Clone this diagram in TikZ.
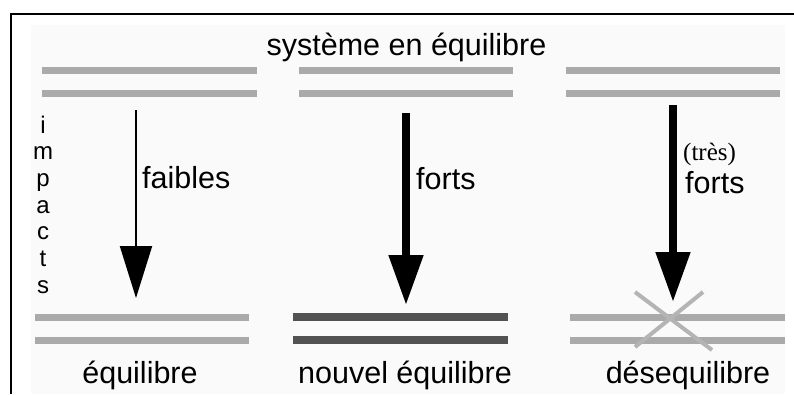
\documentclass[tikz,border=0pt]{standalone}
\usepackage{fontspec}
\setmainfont{Liberation Sans}
\newfontfamily\myserif{Liberation Serif}
\usetikzlibrary{arrows.meta}
\definecolor{barlight}{RGB}{170,170,170}
\definecolor{bardark}{RGB}{82,82,82}
\definecolor{crossgray}{RGB}{180,180,180}
\definecolor{bgpanel}{RGB}{250,250,250}
\begin{document}
\begin{tikzpicture}[x=1pt,y=-1pt,
  lightbar/.style={draw=barlight,line width=7pt},
  darkbar/.style={draw=bardark,line width=7.5pt},
  crossline/.style={draw=crossgray,line width=4pt},
  lbl/.style={inner sep=0pt,anchor=base,font=\fontsize{30.5}{36}\selectfont},
  sidelbl/.style={inner sep=0pt,anchor=base west,font=\fontsize{30.5}{36}\selectfont},
  vletter/.style={inner sep=0pt,anchor=base,font=\fontsize{24}{28}\selectfont},
  thinarrow/.style={line width=2pt,-{Triangle[length=52pt,width=32pt]}},
  thickarrow/.style={line width=8pt,-{Triangle[length=50pt,width=33pt]}},
  frameline/.style={line width=1.8pt,draw=black}]
\useasboundingbox (0,0) rectangle (794,394);
% background panel and frame
\fill[bgpanel] (31,25) rectangle (785,394);
\draw[frameline] (794,14) -- (11,14) -- (11,394);
% title
\node[lbl] (title) at (406.5,55) {système en équilibre};
% top bars
\draw[lightbar] (42,70) -- (257,70);
\draw[lightbar] (42,93) -- (257,93);
\draw[lightbar] (299,70) -- (513,70);
\draw[lightbar] (299,93) -- (513,93);
\draw[lightbar] (566,70) -- (780,70);
\draw[lightbar] (566,93) -- (780,93);
% bottom bars
\draw[lightbar] (35,317) -- (249,317);
\draw[lightbar] (35,340) -- (249,340);
\draw[darkbar] (293,317) -- (508,317);
\draw[darkbar] (293,340) -- (508,340);
\draw[lightbar] (570,317) -- (785,317);
\draw[lightbar] (570,340) -- (785,340);
% cross
\coordinate (x1a) at (635,292); \coordinate (x1b) at (712,350);
\coordinate (x2a) at (703,292); \coordinate (x2b) at (635,347);
\draw[crossline] (x1a) -- (x1b);
\draw[crossline] (x2a) -- (x2b);
% arrows
\coordinate (a1s) at (136,110); \coordinate (a1e) at (136,298);
\coordinate (a2s) at (406,113); \coordinate (a2e) at (406,305);
\coordinate (a3s) at (673,105); \coordinate (a3e) at (673,302);
\draw[thinarrow] (a1s) -- (a1e);
\draw[thickarrow] (a2s) -- (a2e);
\draw[thickarrow] (a3s) -- (a3e);
% arrow labels
\node[sidelbl] (faibles) at (142,188) {faibles};
\node[sidelbl] (forts1) at (416,189) {forts};
\node[inner sep=0pt,anchor=base west,font=\myserif\fontsize{25}{30}\selectfont] (tres) at (683,160) {(très)};
\node[sidelbl] (forts2) at (685,193) {forts};
% impacts
\node[vletter] (li) at (43,133) {i};
\node[vletter] (lm) at (43,159.7) {m};
\node[vletter] (lp) at (43,186.3) {p};
\node[vletter] (la) at (43,213) {a};
\node[vletter] (lc) at (43,239.7) {c};
\node[vletter] (lt) at (43,266.3) {t};
\node[vletter] (ls) at (43,293) {s};
% bottom labels
\node[lbl] (eq) at (140,383) {équilibre};
\node[lbl] (neq) at (405,383) {nouvel équilibre};
\node[lbl] (deseq) at (688,383) {désequilibre};
\end{tikzpicture}
\end{document}
